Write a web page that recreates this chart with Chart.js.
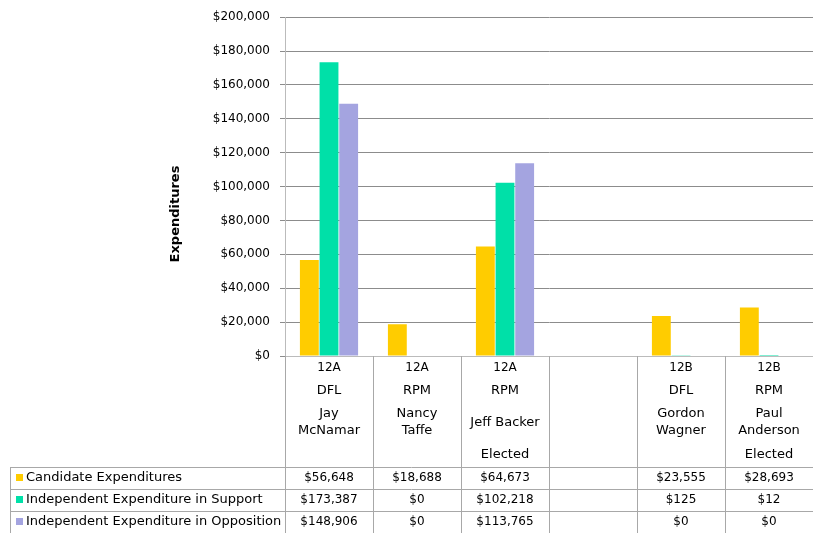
<!DOCTYPE html>
<html><head><meta charset="utf-8">
<script src="https://cdn.jsdelivr.net/npm/chart.js@4/dist/chart.umd.min.js"></script>
<style>html,body{margin:0;padding:0;background:#fff}canvas{display:block}</style>
</head><body>
<canvas id="c" width="813" height="533"></canvas>
<script>
const districts = ["12A", "12A", "12A", "", "12B", "12B"];
const parties = ["DFL", "RPM", "RPM", "", "DFL", "RPM"];
const candidates = [["Jay", "McNamar"], ["Nancy", "Taffe"], ["Jeff Backer"], [], ["Gordon", "Wagner"], ["Paul", "Anderson"]];
const statuses = ["", "", "Elected", "", "", "Elected"];
const seriesNames = ["Candidate Expenditures", "Independent Expenditure in Support", "Independent Expenditure in Opposition"];
const candidateExp = [56648, 18688, 64673, null, 23555, 28693];
const supportExp = [173387, 0, 102218, null, 125, 12];
const oppositionExp = [148906, 0, 113765, null, 0, 0];
const colors = ["#FFCC00", "#00E0A8", "#A4A4E0"];
const axisTitle = "Expenditures";

const FONT = '"DejaVu Sans", sans-serif';
const fmt = v => v === null ? "" : "$" + v.toLocaleString("en-US");

const tablePlugin = {
  id: "tablePlugin",
  afterDraw(chart) {
    const ctx = chart.ctx;
    const x = chart.scales.x;
    const area = chart.chartArea;
    const n = districts.length;
    const cw = (x.right - x.left) / n;
    const top = area.bottom;
    const H = chart.height;
    const rowTops = [467, 489, 511];
    ctx.save();
    ctx.strokeStyle = "#A8A8A8";
    ctx.lineWidth = 1;
    rowTops.forEach(y => {
      ctx.beginPath(); ctx.moveTo(10, y + 0.5); ctx.lineTo(x.right, y + 0.5); ctx.stroke();
    });
    ctx.beginPath(); ctx.moveTo(10.5, rowTops[0]); ctx.lineTo(10.5, H); ctx.stroke();
    for (let i = 0; i <= n; i++) {
      const px = Math.round(x.left + i * cw) + 0.5;
      ctx.beginPath(); ctx.moveTo(px, top); ctx.lineTo(px, H); ctx.stroke();
    }
    ctx.fillStyle = "#000";
    ctx.textAlign = "center";
    ctx.textBaseline = "middle";
    const txt = "13px " + FONT, num = "12px " + FONT;
    for (let i = 0; i < n; i++) {
      const cx = x.getPixelForValue(i);
      ctx.font = num;
      ctx.fillText(districts[i], cx, 368);
      ctx.font = txt;
      ctx.fillText(parties[i], cx, 391);
      const nm = candidates[i];
      if (nm.length === 2) { ctx.fillText(nm[0], cx, 414); ctx.fillText(nm[1], cx, 431); }
      else if (nm.length === 1) { ctx.fillText(nm[0], cx, 423); }
      ctx.fillText(statuses[i], cx, 455);
      ctx.font = num;
      [candidateExp, supportExp, oppositionExp].forEach((arr, r) => {
        ctx.fillText(fmt(arr[i]), cx, rowTops[r] + 11);
      });
    }
    ctx.textAlign = "left";
    ctx.font = txt;
    seriesNames.forEach((s, r) => {
      const cy = rowTops[r] + 11;
      ctx.fillStyle = colors[r];
      ctx.fillRect(16, cy - 4, 7, 7);
      ctx.fillStyle = "#000";
      ctx.fillText(s, 26, cy);
    });
    ctx.translate(176, 214);
    ctx.rotate(-Math.PI / 2);
    ctx.textAlign = "center";
    ctx.font = "bold 13px " + FONT;
    ctx.fillText(axisTitle, 0, 0);
    ctx.restore();
  }
};

new Chart(document.getElementById("c"), {
  type: "bar",
  data: {
    labels: districts.map((d, i) => String(i)),
    datasets: [candidateExp, supportExp, oppositionExp].map((arr, i) => ({
      label: seriesNames[i],
      data: arr,
      backgroundColor: colors[i],
      borderWidth: 0,
      categoryPercentage: 0.67,
      barPercentage: 0.96
    }))
  },
  options: {
    responsive: false,
    animation: false,
    devicePixelRatio: 1,
    layout: { padding: { top: 14, left: 0, right: 0, bottom: 0 } },
    plugins: { legend: { display: false }, tooltip: { enabled: false }, title: { display: false } },
    scales: {
      x: {
        ticks: { display: false },
        grid: { display: false },
        border: { display: true, color: "#BBBBBB" },
        afterFit(s) { s.height = 177; }
      },
      y: {
        min: 0, max: 200000,
        ticks: {
          stepSize: 20000,
          padding: 10,
          color: "#000",
          font: { family: FONT, size: 12 },
          callback: v => "$" + Number(v).toLocaleString("en-US")
        },
        grid: { color: "#8C8C8C", tickColor: "#8C8C8C", tickLength: 5 },
        border: { display: true, color: "#BBBBBB" },
        afterFit(s) { s.width = 285; }
      }
    }
  },
  plugins: [tablePlugin]
});
</script>
</body></html>
